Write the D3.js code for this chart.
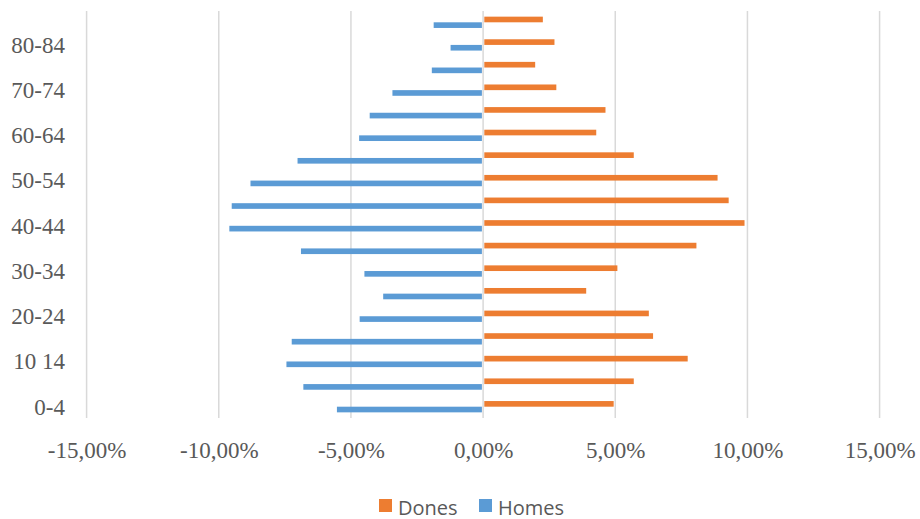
<!DOCTYPE html>
<html>
<head>
<meta charset="utf-8">
<script src="https://cdn.jsdelivr.net/npm/d3@7"></script>
<style>
  body { margin: 0; background: #fff; }
  .tick-label { font-family: "Liberation Serif", "Times New Roman", serif; font-size: 23px; fill: #595959; }
  .legend-label { font-family: "Open Sans", "Liberation Sans", sans-serif; font-size: 20px; fill: #595959; }
</style>
</head>
<body>
<svg id="chart" width="920" height="519"></svg>
<script>
// age groups, bottom to top
const ages = ['0-4', '5-9', '10 14', '15-19', '20-24', '25-29', '30-34', '35-39', '40-44',
    '45-49', '50-54', '55-59', '60-64', '65-69', '70-74', '75-79', '80-84', '85+'];
// share of population (%)
const dones = [4.94, 5.70, 7.74, 6.43, 6.27, 3.90, 5.08, 8.07, 9.89,
    9.29, 8.87, 5.70, 4.28, 4.63, 2.77, 1.97, 2.70, 2.26];
const homes = [-5.53, -6.80, -7.44, -7.24, -4.67, -3.78, -4.49, -6.89, -9.60,
    -9.51, -8.80, -7.02, -4.69, -4.29, -3.43, -1.94, -1.23, -1.87];
const xTicks = [-15, -10, -5, 0, 5, 10, 15];
const seriesNames = ['Dones', 'Homes'];
const colors = { Dones: '#ED7D31', Homes: '#5B9BD5' };

const svg = d3.select('#chart');

const x = d3.scaleLinear()
    .domain([-15, 15])
    .range([86.6, 879.6]);

const y = d3.scaleBand()
    .domain(ages.slice().reverse())
    .range([11, 418]);

const inner = d3.scaleBand()
    .domain(seriesNames)
    .range([0, y.bandwidth()])
    .paddingOuter(1);

const fmt = d3.formatLocale({
    decimal: ',', thousands: '.', grouping: [3], currency: ['', ' €'], minus: '-', percent: '%'
}).format('.2f');

// gridlines
svg.append('g')
    .selectAll('line')
    .data(xTicks)
    .join('line')
    .attr('x1', d => x(d))
    .attr('x2', d => x(d))
    .attr('y1', 11)
    .attr('y2', 418)
    .attr('stroke', '#D9D9D9')
    .attr('stroke-width', 1.5);

const rows = ages.map((a, i) => ({ age: a, Dones: dones[i], Homes: homes[i] }));

// bars
const bars = svg.append('g');
seriesNames.forEach(name => {
    bars.selectAll('.bar-' + name)
        .data(rows)
        .join('rect')
        .attr('class', 'bar-' + name)
        .attr('x', d => d[name] < 0 ? x(d[name]) : x(0) + 1.2)
        .attr('width', d => Math.abs(x(d[name]) - x(0)) - 1.2)
        .attr('y', d => y(d.age) + inner(name))
        .attr('height', inner.bandwidth())
        .attr('fill', colors[name]);
});

// y axis labels (every other category shown)
const yAxis = d3.axisLeft(y)
    .tickValues(ages.filter((a, i) => i % 2 === 0))
    .tickSize(0)
    .tickPadding(0);
svg.append('g')
    .attr('transform', 'translate(65,0)')
    .call(yAxis)
    .call(g => g.select('.domain').remove())
    .call(g => g.selectAll('text').attr('class', 'tick-label').attr('fill', null).attr('dy', '0.34em'));

// x axis labels
const xAxis = d3.axisBottom(x)
    .tickValues(xTicks)
    .tickSize(0)
    .tickPadding(0)
    .tickFormat(d => fmt(d) + '%');
svg.append('g')
    .attr('transform', 'translate(0,441)')
    .call(xAxis)
    .call(g => g.select('.domain').remove())
    .call(g => g.selectAll('text').attr('class', 'tick-label').attr('fill', null).attr('dy', '0.72em'));

// legend
const legend = svg.append('g').attr('transform', 'translate(379,499)');
const legendX = { Dones: 0, Homes: 100 };
seriesNames.forEach(name => {
    const item = legend.append('g').attr('transform', `translate(${legendX[name]},0)`);
    item.append('rect')
        .attr('width', 13)
        .attr('height', 13)
        .attr('fill', colors[name]);
    item.append('text')
        .attr('class', 'legend-label')
        .attr('x', 19)
        .attr('y', 15.5)
        .text(name);
});
</script>
</body>
</html>
